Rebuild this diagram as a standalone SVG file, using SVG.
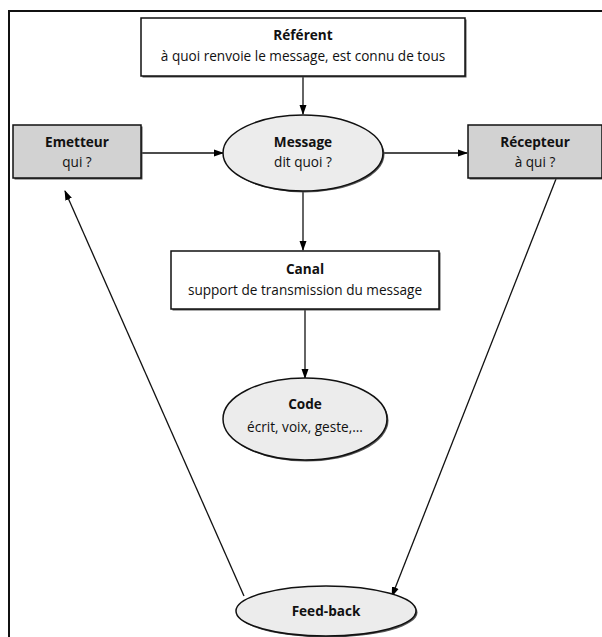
<svg xmlns="http://www.w3.org/2000/svg" width="602" height="637" viewBox="0 0 602 637">
<defs>
<marker id="ah" markerWidth="10" markerHeight="8" refX="9" refY="4" orient="auto" markerUnits="userSpaceOnUse">
<path d="M0,0.5 L10,4 L0,7.5 Z" fill="#000"/>
</marker>
<style>
.t{font-family:"Open Sans","Noto Sans",sans-serif;font-size:13.6px;fill:#111;text-anchor:middle}
.b{font-weight:bold}
.box{stroke:#111;stroke-width:1.5}
.sh{fill:#555;stroke:none}
.c{stroke:#111;stroke-width:1.3;fill:none;marker-end:url(#ah)}
</style>
</defs>
<rect width="602" height="637" fill="#fff"/>
<rect x="9" y="11" width="600" height="640" fill="none" stroke="#111" stroke-width="2"/>
<g id="connectors">
<line class="c" x1="303" y1="76" x2="303" y2="114"/>
<line class="c" x1="142" y1="153" x2="223" y2="153"/>
<line class="c" x1="383" y1="153" x2="467" y2="153"/>
<line class="c" x1="303" y1="191" x2="303" y2="250"/>
<line class="c" x1="305" y1="310" x2="305" y2="378"/>
<line class="c" x1="244" y1="596" x2="65" y2="191"/>
<line class="c" x1="556" y1="179" x2="392" y2="596"/>
</g>
<g id="referent">
<rect class="sh" x="142.5" y="19.5" width="324" height="58"/>
<rect class="box" x="141" y="18" width="324" height="58" fill="#fff"/>
<text class="t b" x="303" y="40">Référent</text>
<text class="t" x="303" y="61">à quoi renvoie le message, est connu de tous</text>
</g>
<g id="emetteur">
<rect class="sh" x="14.5" y="126.5" width="128" height="53"/>
<rect class="box" x="13" y="125" width="128" height="53" fill="#d2d2d2"/>
<text class="t b" x="77" y="147">Emetteur</text>
<text class="t" x="77" y="167">qui ?</text>
</g>
<g id="message">
<ellipse class="sh" cx="304.5" cy="154.5" rx="80" ry="38"/>
<ellipse class="box" cx="303" cy="153" rx="80" ry="38" fill="#ececec"/>
<text class="t b" x="303" y="147">Message</text>
<text class="t" x="303" y="167">dit quoi ?</text>
</g>
<g id="recepteur">
<rect class="sh" x="469.5" y="126.5" width="134" height="53"/>
<rect class="box" x="468" y="125" width="134" height="53" fill="#d2d2d2"/>
<text class="t b" x="535" y="147">Récepteur</text>
<text class="t" x="535" y="167">à qui ?</text>
</g>
<g id="canal">
<rect class="sh" x="172.5" y="252.5" width="268" height="58"/>
<rect class="box" x="171" y="251" width="268" height="58" fill="#fff"/>
<text class="t b" x="305" y="274">Canal</text>
<text class="t" x="305" y="295">support de transmission du message</text>
</g>
<g id="code">
<ellipse class="sh" cx="306.5" cy="420.5" rx="82" ry="41"/>
<ellipse class="box" cx="305" cy="419" rx="82" ry="41" fill="#ececec"/>
<text class="t b" x="305" y="409">Code</text>
<text class="t" x="305" y="432">écrit, voix, geste,...</text>
</g>
<g id="feedback">
<ellipse class="sh" cx="327.5" cy="612.5" rx="90" ry="25"/>
<ellipse class="box" cx="326" cy="611" rx="90" ry="25" fill="#ececec"/>
<text class="t b" x="326" y="616">Feed-back</text>
</g>
</svg>
